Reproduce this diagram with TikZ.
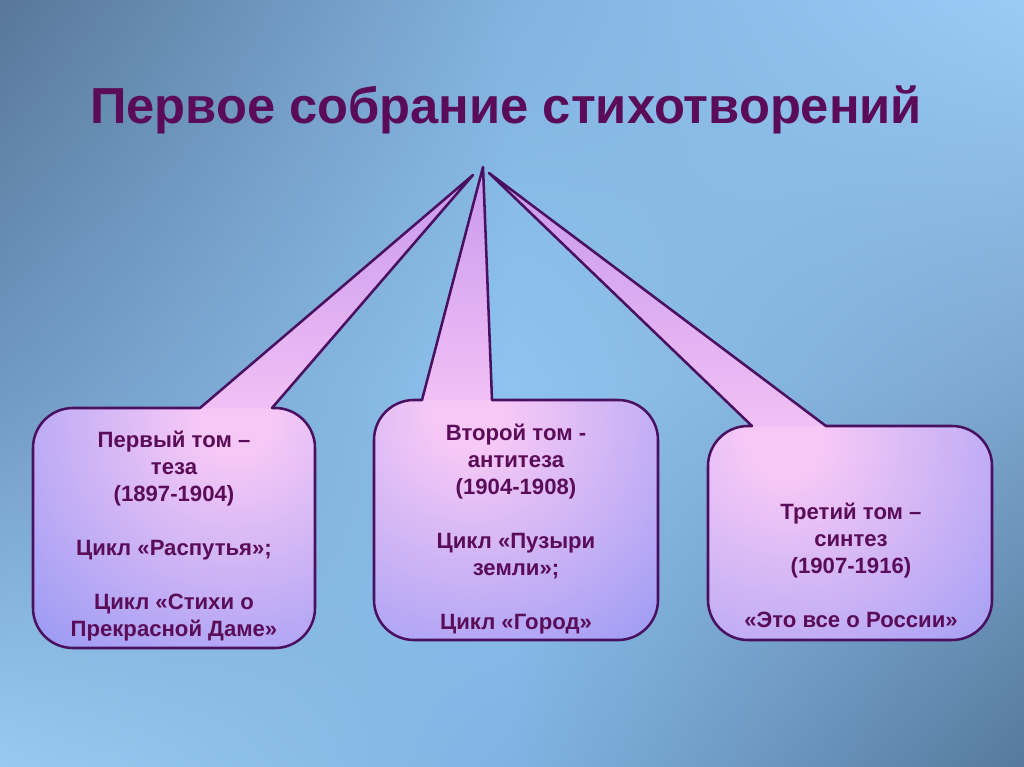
\documentclass[tikz,border=0pt]{standalone}
\usepackage{fontspec}
\setmainfont{Liberation Sans}
\usetikzlibrary{shadings}

\definecolor{cTL}{HTML}{587799}
\definecolor{cTM}{HTML}{82B2DF}
\definecolor{cTR}{HTML}{9ACBF7}
\definecolor{cML}{HTML}{6F98C2}
\definecolor{cC}{HTML}{8FC4F0}
\definecolor{cMR}{HTML}{7CA6CE}
\definecolor{cBL}{HTML}{98CAF0}
\definecolor{cBM}{HTML}{80B3E2}
\definecolor{cBR}{HTML}{56799D}
\definecolor{boxpink}{HTML}{F6C8F6}
\definecolor{boxblue}{HTML}{9A9AF4}
\definecolor{tipviolet}{HTML}{C898EE}
\definecolor{basepink}{HTML}{F0C0F5}
\definecolor{edgepurple}{HTML}{4A1060}
\definecolor{textpurple}{HTML}{5A0C58}

\pgfdeclareradialshading{calloutshade}{\pgfpointorigin}{%
  color(0bp)=(boxpink); color(3bp)=(boxpink); color(25bp)=(boxblue); color(50bp)=(boxblue)}

\tikzset{
  boxline/.style={draw=edgepurple, line width=1.9pt, line join=round},
  boxtext/.style={text=textpurple, align=center,
    font=\bfseries\fontsize{16.6}{20.25}\selectfont},
  tipshade/.style={top color=tipviolet, bottom color=basepink},
}

\begin{document}
\begin{tikzpicture}[x=0.75pt, y=-0.75pt]

  \useasboundingbox (0,0) rectangle (1024,767);

  % background
  \shade[upper left=cTL, upper right=cTM, lower left=cML, lower right=cC] (0,0) rectangle (512.5,384);
  \shade[upper left=cTM, upper right=cTR, lower left=cC, lower right=cMR] (511.5,0) rectangle (1024,384);
  \shade[upper left=cML, upper right=cC, lower left=cBL, lower right=cBM] (0,383) rectangle (512.5,767);
  \shade[upper left=cC, upper right=cMR, lower left=cBM, lower right=cBR] (511.5,383) rectangle (1024,767);

  \node[text=textpurple, font=\bfseries\fontsize{38}{44}\selectfont] (title) at (506,110)
    {Первое собрание стихотворений};

  % first volume
  \path[save path=\tomA] (315,528) [rounded corners=30pt] -- (315,648) -- (33,648)
    -- (33,408) [sharp corners] -- (200,408) -- (473,175) -- (272,408)
    [rounded corners=30pt] -- (315,408) [sharp corners] -- cycle;
  \begin{scope}
    \clip[use path=\tomA];
    \fill[boxblue] (0,0) rectangle (1024,767);
    \shade[shading=calloutshade] (235,420) circle (300);
    \shade[tipshade] (195,408) -- (473,175) -- (277,408) -- cycle;
  \end{scope}
  \draw[boxline, use path=\tomA];

  % second volume
  \path[save path=\tomB] (658,520) [rounded corners=30pt] -- (658,640) -- (374,640)
    -- (374,400) [sharp corners] -- (422,400) -- (483,167) -- (492,400)
    [rounded corners=30pt] -- (658,400) [sharp corners] -- cycle;
  \begin{scope}
    \clip[use path=\tomB];
    \fill[boxblue] (0,0) rectangle (1024,767);
    \shade[shading=calloutshade] (470,415) circle (300);
    \shade[tipshade] (418,400) -- (483,167) -- (496,400) -- cycle;
  \end{scope}
  \draw[boxline, use path=\tomB];

  % third volume
  \path[save path=\tomC] (992,533) [rounded corners=30pt] -- (992,640) -- (708,640)
    -- (708,426) [sharp corners] -- (752,426) -- (489,173) -- (826,426)
    [rounded corners=30pt] -- (992,426) [sharp corners] -- cycle;
  \begin{scope}
    \clip[use path=\tomC];
    \fill[boxblue] (0,0) rectangle (1024,767);
    \shade[shading=calloutshade] (785,440) circle (320);
    \shade[tipshade] (748,426) -- (489,173) -- (830,426) -- cycle;
  \end{scope}
  \draw[boxline, use path=\tomC];

  \node[boxtext] (tom1) at (174,536)
    {Первый том –\\ теза\\ (1897-1904)\\[20.25pt] Цикл «Распутья»;\\[20.25pt]
     Цикл «Стихи о\\ Прекрасной Даме»};
  \node[boxtext] (tom2) at (516,529)
    {Второй том -\\ антитеза\\ (1904-1908)\\[20.25pt] Цикл «Пузыри\\ земли»;\\[20.25pt]
     Цикл «Город»};
  \node[boxtext] (tom3) at (851,565)
    {Третий том –\\ синтез\\ (1907-1916)\\[20.25pt] «Это все о России»};

\end{tikzpicture}
\end{document}
